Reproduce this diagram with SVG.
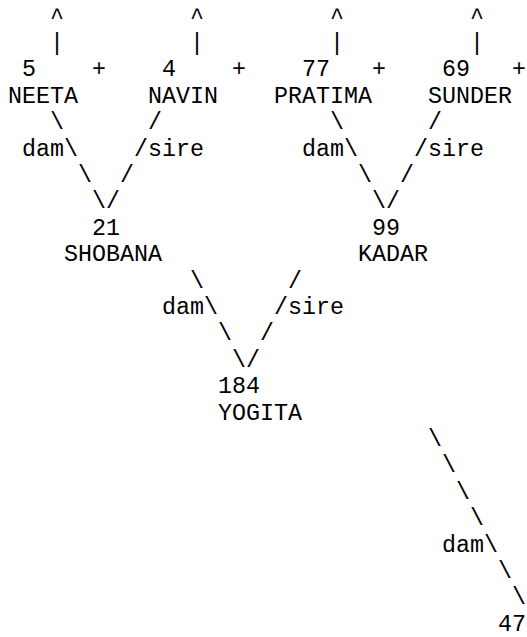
<svg xmlns="http://www.w3.org/2000/svg" width="527" height="637" viewBox="0 0 527 637">
<style>
text{font-family:"Courier New","Liberation Mono",monospace;font-size:23.333px;fill:#000;}
</style>
<rect width="527" height="637" fill="#fff"/>
<g id="connectors">
<text x="50" y="23.5">^</text><text x="190" y="23.5">^</text><text x="330" y="23.5">^</text><text x="470" y="23.5">^</text>
<text x="50" y="49.9">|</text><text x="190" y="49.9">|</text><text x="330" y="49.9">|</text><text x="470" y="49.9">|</text>
<text x="92" y="76.3">+</text><text x="232" y="76.3">+</text><text x="372" y="76.3">+</text><text x="512" y="76.3">+</text>
<text x="50" y="129.1">\</text><text x="148" y="129.1">/</text><text x="330" y="129.1">\</text><text x="428" y="129.1">/</text>
<text x="64" y="155.5">\</text><text x="134" y="155.5">/</text><text x="344" y="155.5">\</text><text x="414" y="155.5">/</text>
<text x="78" y="181.9">\</text><text x="120" y="181.9">/</text><text x="358" y="181.9">\</text><text x="400" y="181.9">/</text>
<text x="92" y="208.3">\</text><text x="106" y="208.3">/</text><text x="372" y="208.3">\</text><text x="386" y="208.3">/</text>
<text x="190" y="287.5">\</text><text x="288" y="287.5">/</text>
<text x="204" y="313.9">\</text><text x="274" y="313.9">/</text>
<text x="218" y="340.3">\</text><text x="260" y="340.3">/</text>
<text x="232" y="366.7">\</text><text x="246" y="366.7">/</text>
<text x="428" y="445.9">\</text>
<text x="442" y="472.3">\</text>
<text x="456" y="498.7">\</text>
<text x="470" y="525.1">\</text>
<text x="484" y="551.5">\</text>
<text x="498" y="577.9">\</text>
<text x="512" y="604.3">\</text>
</g>
<g id="labels">
<text x="22" y="155.5">dam</text><text x="148" y="155.5">sire</text>
<text x="302" y="155.5">dam</text><text x="428" y="155.5">sire</text>
<text x="162" y="313.9">dam</text><text x="288" y="313.9">sire</text>
<text x="442" y="551.5">dam</text>
</g>
<g id="node-neeta"><text x="22" y="76.3">5</text><text x="8" y="102.7">NEETA</text></g>
<g id="node-navin"><text x="162" y="76.3">4</text><text x="148" y="102.7">NAVIN</text></g>
<g id="node-pratima"><text x="302" y="76.3">77</text><text x="274" y="102.7">PRATIMA</text></g>
<g id="node-sunder"><text x="442" y="76.3">69</text><text x="428" y="102.7">SUNDER</text></g>
<g id="node-shobana"><text x="92" y="234.7">21</text><text x="64" y="261.1">SHOBANA</text></g>
<g id="node-kadar"><text x="372" y="234.7">99</text><text x="358" y="261.1">KADAR</text></g>
<g id="node-yogita"><text x="218" y="393.1">184</text><text x="218" y="419.5">YOGITA</text></g>
<g id="node-47"><text x="498" y="630.7">47</text></g>
</svg>
